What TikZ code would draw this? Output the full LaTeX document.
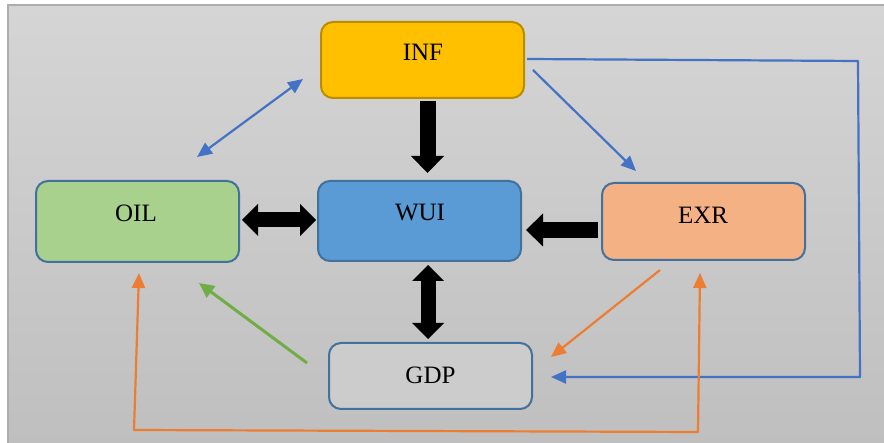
\documentclass[tikz,border=0pt]{standalone}
\usepackage{fontspec}
\setmainfont{Liberation Serif}
\usetikzlibrary{arrows.meta,calc}
\definecolor{bgtop}{HTML}{D5D5D5}
\definecolor{bgbot}{HTML}{BFBFBF}
\definecolor{frameg}{HTML}{ADADAD}
\definecolor{boxedge}{HTML}{41719C}
\definecolor{infedge}{HTML}{BC8C00}
\definecolor{inffill}{HTML}{FFC000}
\definecolor{oilfill}{HTML}{A9D18E}
\definecolor{wuifill}{HTML}{5B9BD5}
\definecolor{exrfill}{HTML}{F4B183}
\definecolor{gdpfill}{HTML}{CCCCCC}
\definecolor{lblue}{HTML}{4472C4}
\definecolor{lorange}{HTML}{ED7D31}
\definecolor{lgreen}{HTML}{70AD47}
\tikzset{
  box/.style={draw=boxedge, line width=2pt, rounded corners=12pt, inner sep=0pt, minimum width=203pt},
  lbl/.style={font=\fontsize{25}{30}\selectfont, inner sep=0pt},
  thin/.style={line width=2.2pt, line join=round},
  tip/.style={-{Triangle[length=15pt,width=13pt]}},
  bitip/.style={{Triangle[length=15pt,width=13pt]}-{Triangle[length=15pt,width=13pt]}},
  blockone/.style={draw=black, line width=16pt, -{Triangle[length=17pt,width=33pt,line width=0pt]}},
  blocktwo/.style={draw=black, line width=15pt, {Triangle[length=16pt,width=32pt,line width=0pt]}-{Triangle[length=16pt,width=32pt,line width=0pt]}},
}
\begin{document}
\begin{tikzpicture}[x=1pt,y=-1pt]
\useasboundingbox (0,0) rectangle (884,443);
\fill[white] (0,0) rectangle (884,443);
\shade[top color=bgtop, bottom color=bgbot] (8,5) rectangle (884,443);
\draw[frameg, line width=1.5pt] (8,443) -- (8,5) -- (884,5);

% boxes
\node[box, draw=infedge, fill=inffill, minimum height=76pt] (inf) at (422.5,60) {};
\node[box, fill=oilfill, minimum height=81pt] (oil) at (137.5,221.5) {};
\node[box, fill=wuifill, minimum height=80pt] (wui) at (419.5,221) {};
\node[box, fill=exrfill, minimum height=77pt] (exr) at (703.5,221.5) {};
\node[box, fill=gdpfill, minimum height=66pt] (gdp) at (430.5,376) {};

% labels
\node[lbl] (inft) at ($(inf.center)+(0.5,-8)$) {INF};
\node[lbl] (oilt) at ($(oil.center)+(-1.5,-8.5)$) {OIL};
\node[lbl] (wuit) at ($(wui.center)+(0.5,-8)$) {WUI};
\node[lbl] (exrt) at ($(exr.center)+(-0.5,-6.5)$) {EXR};
\node[lbl] (gdpt) at ($(gdp.center)+(0,-1)$) {GDP};

% block arrows
\draw[blockone] ($(inf.south)+(5,2)$) -- ($(wui.north)+(8,-7)$);
\draw[blocktwo] ($(oil.east)+(2,-1.5)$) -- ($(wui.west)+(-1,-1)$);
\draw[blockone] ($(exr.west)+(-3,8.5)$) -- ($(wui.east)+(4,9)$);
\draw[blocktwo] ($(wui.south)+(8.5,3)$) -- ($(gdp.north)+(-2.5,-3)$);

% free-end coordinates
\coordinate (io1) at (197,157);
\coordinate (io2) at (303,79);
\coordinate (ie1) at (533,70);
\coordinate (ie2) at (636,171);
\coordinate (ig1) at (527,59);
\coordinate (ig2) at (858,61);
\coordinate (ig3) at (860,377);
\coordinate (ig4) at (551,377);
\coordinate (eg1) at (660,270);
\coordinate (eg2) at (551,357);
\coordinate (oe1) at (139,273);
\coordinate (oe2) at (134,430);
\coordinate (oe3) at (698,432);
\coordinate (oe4) at (700,273);
\coordinate (go1) at (307,363);
\coordinate (go2) at (199,283);

% thin connectors
\draw[thin, lblue, bitip] (io1) -- (io2);
\draw[thin, lblue, tip] (ie1) -- (ie2);
\draw[thin, lblue, tip] (ig1) -- (ig2) -- (ig3) -- (ig4);
\draw[thin, lorange, tip] (eg1) -- (eg2);
\draw[thin, lorange, bitip] (oe1) -- (oe2) -- (oe3) -- (oe4);
\draw[line width=3pt, lgreen, -{Triangle[length=15pt,width=14pt]}] (go1) -- (go2);
\end{tikzpicture}
\end{document}
